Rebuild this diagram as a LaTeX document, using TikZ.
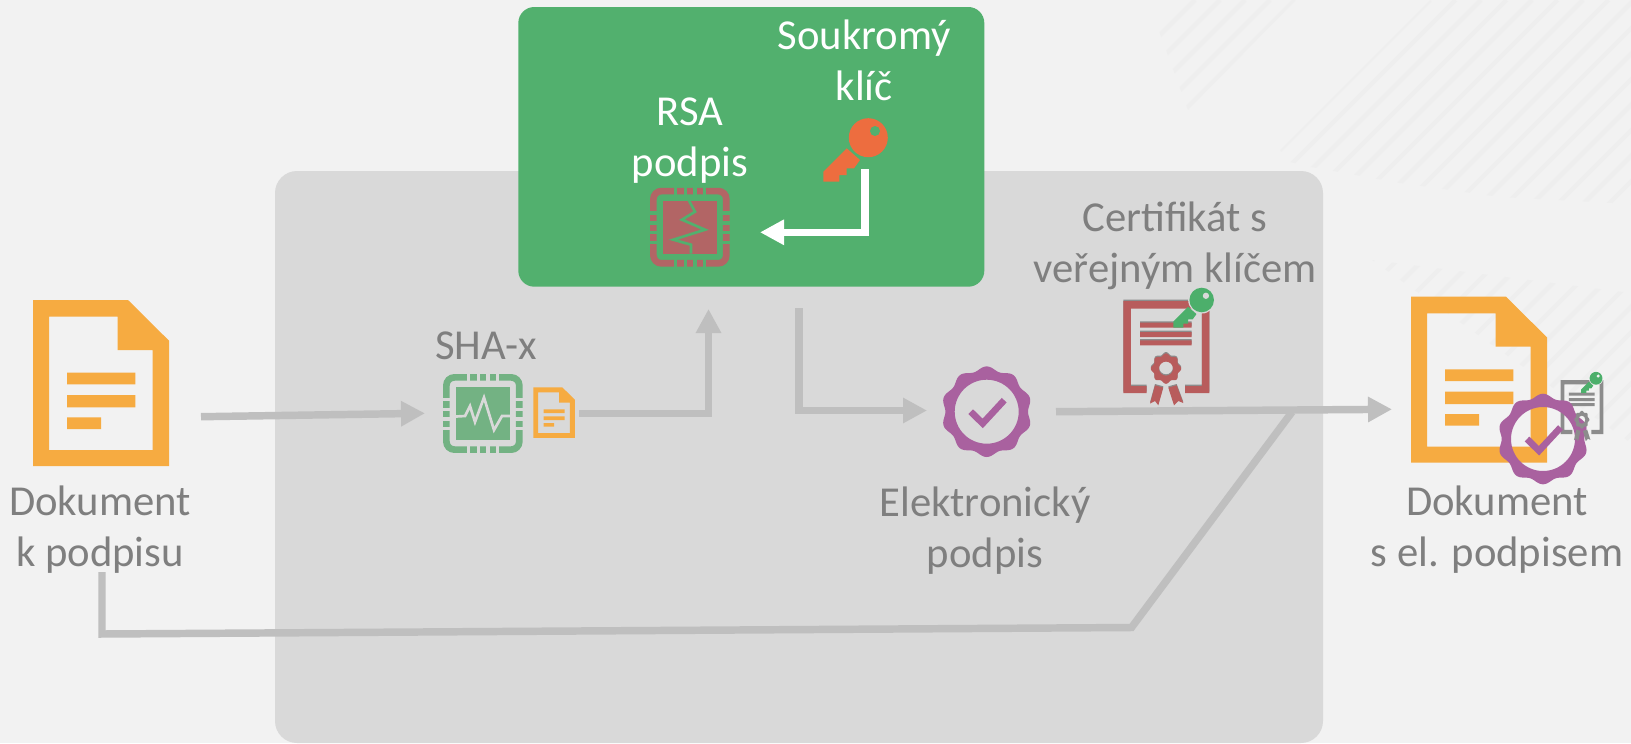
\documentclass[tikz,border=0pt]{standalone}
\usepackage{fontspec}
\setmainfont{Carlito}
\usetikzlibrary{arrows.meta}
\definecolor{bgc}{HTML}{F2F2F2}
\definecolor{panel}{HTML}{D9D9D9}
\definecolor{greenbox}{HTML}{52B06E}
\definecolor{hatchc}{HTML}{EEEEEE}
\definecolor{docc}{HTML}{F6AB41}
\definecolor{arrowc}{HTML}{BFBFBF}
\definecolor{textc}{HTML}{7F7F7F}
\definecolor{chipg}{HTML}{73B283}
\definecolor{chipr}{HTML}{B26565}
\definecolor{purp}{HTML}{A9619F}
\definecolor{keyo}{HTML}{ED6D3F}
\definecolor{keyg}{HTML}{4CAF6B}
\definecolor{certr}{HTML}{B85C5C}
\definecolor{certg}{HTML}{8C8C8C}
\tikzset{
  lbl/.style={font=\fontsize{32}{38.25}\selectfont,align=center,text=textc,inner sep=0pt,anchor=base},
  lblw/.style={lbl,text=white},
  hatch/.style={draw=hatchc,line width=3.4pt},
  conn/.style={draw=arrowc,line width=5.6pt,miter limit=10},
  connarrow/.style={conn,-{Triangle[length=18pt,width=18pt]}},
  whitearrow/.style={draw=white,line width=5.5pt,-{Triangle[length=18pt,width=18pt]}},
}
% document icon, 136 x 166 units
\newcommand{\docicon}[3]{%
  \begin{scope}[shift={(#1,#2)},scale=#3]
    \fill[docc,even odd rule]
      (0,0)--(95,0)--(136,40.7)--(136,166)--(0,166)--cycle
      (16,16.7)--(84.7,16.7)--(84.7,50)--(119.7,50)--(119.7,150)--(16,150)--cycle;
    \fill[docc] (34,72.7) rectangle (102.3,84.3)
      (34,95) rectangle (102.3,107.3)
      (34,117.3) rectangle (68,129);
  \end{scope}}
% chip frame, 80 x 79 units; #3 colour, #4 gap colour
\newcommand{\chipframe}[4]{%
  \begin{scope}[shift={(#1,#2)}]
    \draw[#3,line width=5pt,rounded corners=6pt] (3.4,3.4) rectangle (76.3,75.6);
    \foreach \g in {25.2,35.2,45,54.6}{
      \fill[#4] (\g-1.6,-1) rectangle (\g+1.6,8);
      \fill[#4] (\g-1.6,71) rectangle (\g+1.6,80);
      \fill[#4] (-1,\g-1.6) rectangle (8,\g+1.6);
      \fill[#4] (72,\g-1.6) rectangle (81,\g+1.6);
    }
    \fill[#3] (13,13) rectangle (66.7,66);
  \end{scope}}
% key, head centred on the given point
\newcommand{\keyicon}[5]{%
  \begin{scope}[shift={(#1,#2)},scale=#3]
    \fill[#4] (-21.6,10.6)--(-45,34)--(-45,44)--(-29,44)--(-29,37.3)--(-21.6,37.3)--(-21.6,30.6)--(-14.3,30.6)--(-8.3,22.3)--cycle;
    \fill[#5] (0,0) circle[radius=21.5];
    \fill[#4] (0,0) circle[radius=19.5];
    \fill[#5] (6.7,-6.7) circle[radius=5];
  \end{scope}}
% badge: wavy ring with a check mark
\newcommand{\badge}[2]{%
  \begin{scope}[shift={(#1,#2)}]
    \fill[purp,even odd rule] plot[domain=0:360,samples=181,smooth]
      ({(43.3+2*cos(10*(\x+90)))*cos(\x)},{(43.3+2*cos(10*(\x+90)))*sin(\x)}) -- cycle
      (0,0) circle[radius=32];
    \draw[purp,line width=5pt] (-16,0)--(-4,11.7)--(17.5,-11.5);
  \end{scope}}
% certificate frame and text lines, 86 x 92 units
\newcommand{\certframe}[4]{%
  \begin{scope}[shift={(#1,#2)},xscale=#3,yscale=#4]
    \fill[\certcol] (0,0)--(86,0)--(86,92)--(61.7,92)--(61.7,85)--(78.5,85)--(78.5,7.5)--(7.5,7.5)--(7.5,85)--(23.4,85)--(23.4,92)--(0,92)--cycle;
    \fill[\certcol] (16.7,21.6) rectangle (68.4,26.6)
      (16.7,31) rectangle (68.4,36)
      (16.7,39.3) rectangle (68.4,44.3);
  \end{scope}}
% certificate seal and ribbons
\newcommand{\certseal}[4]{%
  \begin{scope}[shift={(#1,#2)},xscale=#3,yscale=#4]
    \fill[\certcol,even odd rule] plot[domain=0:360,samples=121,smooth]
      ({42.7+(14+1.2*cos(8*\x))*cos(\x)},{67.6+(14+1.2*cos(8*\x))*sin(\x)}) -- cycle
      (42.7,67.6) circle[radius=7];
    \fill[\certcol] (31.7,84.3)--(40,86.6)--(35,104.3)--(31.7,100)--(26.7,102.6)--cycle;
    \fill[\certcol] (45,86.6)--(53.4,84.3)--(60,102)--(55,100)--(50.7,104.3)--cycle;
  \end{scope}}
\begin{document}
\begin{tikzpicture}[x=0.75pt,y=-0.75pt]
\useasboundingbox (0,0) rectangle (1631,743);
\fill[bgc] (0,0) rectangle (1631,743);
% hatching
\begin{scope}
  \clip (1155,20)--(1162,0)--(1296,0)--(1188,110)--cycle;
  \foreach \c in {1195,1220,1245,1270,1295}{\draw[hatch] ({\c},0)--({\c-200},200);}
\end{scope}
\begin{scope}
  \clip (1430,0)--(1631,0)--(1631,204)--(1500,197)--(1400,183)--(1311,167)--(1290,162)--(1280,150)--cycle;
  \foreach \c in {1430,1455.5,...,1845}{\draw[hatch] ({\c},0)--({\c-600},600);}
\end{scope}
\begin{scope}
  \clip (1372,260)--(1631,293)--(1631,443)--cycle;
  \foreach \c in {1632,1657.5,...,2080}{\draw[hatch] ({\c},0)--({\c-800},800);}
\end{scope}
% panels
\fill[panel,rounded corners=16.5pt] (275,171) rectangle (1323,743);
\fill[greenbox,rounded corners=12pt] (518.3,7) rectangle (984.3,286.7);
% connector ends
\coordinate (a1s) at (201,416.7);
\coordinate (a1e) at (425,413.3);
\coordinate (a2s) at (579,413.3);
\coordinate (a2m) at (708.5,413.3);
\coordinate (a2e) at (708.5,309);
\coordinate (a3s) at (799,308);
\coordinate (a3m) at (799,410.5);
\coordinate (a3e) at (927,410.5);
\coordinate (a4s) at (1056,411.7);
\coordinate (a4e) at (1392,409.3);
\coordinate (a5s) at (102,572);
\coordinate (a5m) at (102,634);
\coordinate (a5n) at (1131.5,627.5);
\coordinate (a5e) at (1292,412);
\coordinate (w1s) at (865,169);
\coordinate (w1m) at (865,232.3);
\coordinate (w1e) at (760,232.3);
% connectors
\draw[connarrow] (a1s)--(a1e);
\draw[connarrow] (a2s)--(a2m)--(a2e);
\draw[connarrow] (a3s)--(a3m)--(a3e);
\draw[connarrow] (a4s)--(a4e);
\draw[conn] (a5s)--(a5m)--(a5n)--(a5e);
\draw[whitearrow] (w1s)--(w1m)--(w1e);
% left document
\docicon{33}{300}{1}
% SHA chip
\chipframe{443}{374}{chipg}{panel}
\draw[panel,line width=2pt] (456,416.5)--(465,416)--(470,406)--(475,422)--(484,397.5)--(494,430)--(502,416)--(510,416);
\docicon{533.3}{387.3}{0.305}
% RSA chip
\chipframe{650}{187.7}{chipr}{greenbox}
\draw[greenbox,line width=2pt] (689,200.7)--(695,211.7)--(682,219.7)--(705,229.7)--(673.3,239.7)--(691,244.7)--(691,253.7);
% private key
\keyicon{868.3}{137.7}{1}{keyo}{greenbox}
% certificate on the panel
\def\certcol{certg}
\certframe{1123.3}{299.7}{1}{1}
\certseal{1123.3}{299.7}{1}{1}
\def\certcol{certr}
\certframe{1123.3}{301}{1}{1}
\certseal{1123.3}{301}{1}{1}
\keyicon{1201.7}{300}{0.63}{keyg}{panel}
% signature badge
\badge{986.7}{411.7}
% right document
\docicon{1411}{296.7}{1}
\def\certcol{certg}
\certframe{1560.7}{380}{0.495}{0.587}
\badge{1543}{439}
\certseal{1560.7}{380}{0.495}{0.587}
\keyicon{1596}{378.3}{0.33}{keyg}{bgc}
% labels
\node[lbl] (dok) at (100,566) {Dokument\\k podpisu};
\node[lbl] (sha) at (486,359) {SHA-x};
\node[lblw] (rsa) at (690,176.7) {RSA\\podpis};
\node[lblw] (sou) at (864.3,100) {Soukromý\\klíč};
\node[lbl] (cer) at (1175,282) {Certifikát s\\veřejným klíčem};
\node[lbl] (ele) at (985,567) {Elektronický\\podpis};
\node[lbl] (dos) at (1497,566) {Dokument\\s el. podpisem};
\end{tikzpicture}
\end{document}
